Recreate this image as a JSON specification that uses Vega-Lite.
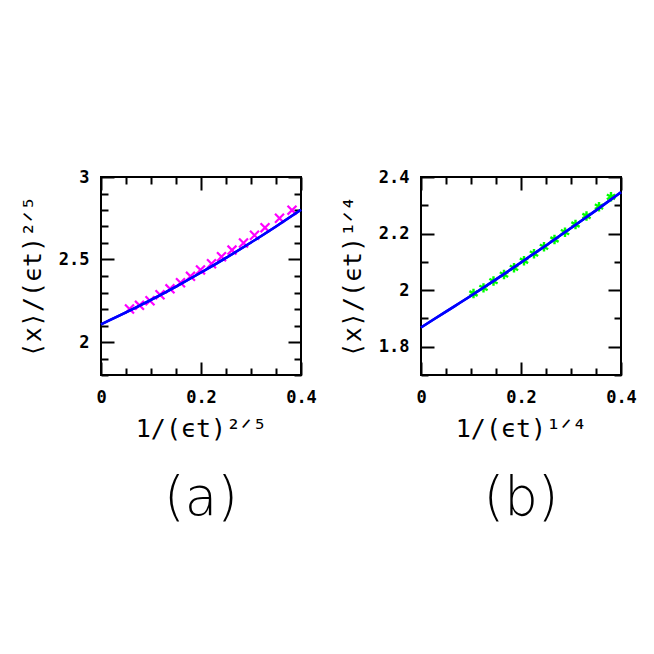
{
  "$schema": "https://vega.github.io/schema/vega-lite/v6.json",
  "description": "Two scaling fits: <x>/(et)^a against 1/(et)^a",
  "padding": {"left": 19, "top": 167, "right": 5, "bottom": 5},
  "background": "white",
  "spacing": 21,
  "datasets": {
    "pointsA": [
      {"x": 0.057, "y": 2.200}, {"x": 0.077, "y": 2.222}, {"x": 0.098, "y": 2.250},
      {"x": 0.118, "y": 2.286}, {"x": 0.138, "y": 2.322}, {"x": 0.159, "y": 2.359},
      {"x": 0.179, "y": 2.398}, {"x": 0.199, "y": 2.437}, {"x": 0.221, "y": 2.474},
      {"x": 0.241, "y": 2.517}, {"x": 0.262, "y": 2.557}, {"x": 0.285, "y": 2.600},
      {"x": 0.307, "y": 2.647}, {"x": 0.328, "y": 2.693}, {"x": 0.357, "y": 2.750},
      {"x": 0.382, "y": 2.799}
    ],
    "lineA": [
      {"x": 0, "y": 2.107}, {"x": 0.05, "y": 2.179}, {"x": 0.1, "y": 2.255},
      {"x": 0.15, "y": 2.336}, {"x": 0.2, "y": 2.421}, {"x": 0.25, "y": 2.510},
      {"x": 0.3, "y": 2.603}, {"x": 0.35, "y": 2.700}, {"x": 0.4, "y": 2.801}
    ],
    "pointsB": [
      {"x": 0.105, "y": 1.988}, {"x": 0.125, "y": 2.008}, {"x": 0.145, "y": 2.032},
      {"x": 0.166, "y": 2.055}, {"x": 0.186, "y": 2.079}, {"x": 0.206, "y": 2.104},
      {"x": 0.226, "y": 2.129}, {"x": 0.246, "y": 2.153}, {"x": 0.267, "y": 2.179},
      {"x": 0.288, "y": 2.205}, {"x": 0.309, "y": 2.232}, {"x": 0.331, "y": 2.262},
      {"x": 0.356, "y": 2.295}, {"x": 0.380, "y": 2.330}
    ],
    "lineB": [
      {"x": 0, "y": 1.868}, {"x": 0.05, "y": 1.924}, {"x": 0.1, "y": 1.980},
      {"x": 0.15, "y": 2.038}, {"x": 0.2, "y": 2.098}, {"x": 0.25, "y": 2.158},
      {"x": 0.3, "y": 2.220}, {"x": 0.35, "y": 2.282}, {"x": 0.4, "y": 2.346}
    ]
  },
  "hconcat": [
    {
      "width": 200,
      "height": 198,
      "title": {"text": "(a)", "orient": "bottom", "anchor": "middle", "frame": "group", "font": "DejaVu Sans", "fontSize": 53, "fontWeight": 300, "color": "black", "offset": 32},
      "resolve": {"axis": {"x": "independent", "y": "independent"}},
      "layer": [
        {
          "data": {"name": "pointsA"},
          "mark": {"type": "point", "shape": "M-1,-1L1,1M-1,1L1,-1", "filled": false, "stroke": "#ff00ff", "strokeWidth": 2.2, "size": 80, "opacity": 1},
          "encoding": {
            "x": {"field": "x", "type": "quantitative", "scale": {"domain": [0, 0.4], "nice": false, "zero": false},
              "axis": {"orient": "bottom", "values": [0, 0.2, 0.4], "ticks": false, "labelPadding": 14, "labelExpr": "'' + round(datum.value * 10) / 10", "title": "1/(ϵt)²ᐟ⁵", "titlePadding": 11}},
            "y": {"field": "y", "type": "quantitative", "scale": {"domain": [1.8, 3], "nice": false, "zero": false},
              "axis": {"orient": "left", "values": [2, 2.5, 3], "ticks": false, "labelPadding": 12, "labelExpr": "'' + round(datum.value * 10) / 10", "title": "⟨x⟩/(ϵt)²ᐟ⁵", "titlePadding": 13}}
          }
        },
        {
          "data": {"name": "lineA"},
          "mark": {"type": "line", "color": "#0000ff", "strokeWidth": 2.5, "interpolate": "monotone"},
          "encoding": {
            "x": {"field": "x", "type": "quantitative",
              "axis": {"orient": "bottom", "values": [0, 0.05, 0.1, 0.15, 0.2, 0.25, 0.3, 0.35, 0.4], "labels": false, "title": null,
                "tickSize": {"condition": {"test": "abs(datum.value * 5 - round(datum.value * 5)) < 0.001", "value": -13}, "value": -7}}},
            "y": {"field": "y", "type": "quantitative",
              "axis": {"orient": "left", "values": [1.8, 1.9, 2, 2.1, 2.2, 2.3, 2.4, 2.5, 2.6, 2.7, 2.8, 2.9, 3], "labels": false, "title": null,
                "tickSize": {"condition": {"test": "abs(datum.value * 2 - round(datum.value * 2)) < 0.001", "value": -13}, "value": -7}}}
          }
        },
        {
          "data": {"name": "lineA"},
          "mark": {"type": "line", "color": "#0000ff", "strokeWidth": 2.5, "interpolate": "monotone"},
          "encoding": {
            "x": {"field": "x", "type": "quantitative",
              "axis": {"orient": "top", "values": [0, 0.05, 0.1, 0.15, 0.2, 0.25, 0.3, 0.35, 0.4], "labels": false, "title": null,
                "tickSize": {"condition": {"test": "abs(datum.value * 5 - round(datum.value * 5)) < 0.001", "value": -13}, "value": -7}}},
            "y": {"field": "y", "type": "quantitative",
              "axis": {"orient": "right", "values": [1.8, 1.9, 2, 2.1, 2.2, 2.3, 2.4, 2.5, 2.6, 2.7, 2.8, 2.9, 3], "labels": false, "title": null,
                "tickSize": {"condition": {"test": "abs(datum.value * 2 - round(datum.value * 2)) < 0.001", "value": -13}, "value": -7}}}
          }
        }
      ]
    },
    {
      "width": 200,
      "height": 198,
      "title": {"text": "(b)", "orient": "bottom", "anchor": "middle", "frame": "group", "font": "DejaVu Sans", "fontSize": 53, "fontWeight": 300, "color": "black", "offset": 32},
      "resolve": {"axis": {"x": "independent", "y": "independent"}},
      "layer": [
        {
          "data": {"name": "pointsB"},
          "mark": {"type": "point", "shape": "M0,-1L0,1M-0.87,-0.5L0.87,0.5M-0.87,0.5L0.87,-0.5", "filled": false, "stroke": "#00ff00", "strokeWidth": 2.4, "size": 90, "opacity": 1},
          "encoding": {
            "x": {"field": "x", "type": "quantitative", "scale": {"domain": [0, 0.4], "nice": false, "zero": false},
              "axis": {"orient": "bottom", "values": [0, 0.2, 0.4], "ticks": false, "labelPadding": 14, "labelExpr": "'' + round(datum.value * 10) / 10", "title": "1/(ϵt)¹ᐟ⁴", "titlePadding": 11}},
            "y": {"field": "y", "type": "quantitative", "scale": {"domain": [1.7, 2.4], "nice": false, "zero": false},
              "axis": {"orient": "left", "values": [1.8, 2, 2.2, 2.4], "ticks": false, "labelPadding": 12, "labelExpr": "'' + round(datum.value * 10) / 10", "title": "⟨x⟩/(ϵt)¹ᐟ⁴", "titlePadding": 13}}
          }
        },
        {
          "data": {"name": "lineB"},
          "mark": {"type": "line", "color": "#0000ff", "strokeWidth": 2.5, "interpolate": "monotone"},
          "encoding": {
            "x": {"field": "x", "type": "quantitative",
              "axis": {"orient": "bottom", "values": [0, 0.05, 0.1, 0.15, 0.2, 0.25, 0.3, 0.35, 0.4], "labels": false, "title": null,
                "tickSize": {"condition": {"test": "abs(datum.value * 5 - round(datum.value * 5)) < 0.001", "value": -13}, "value": -7}}},
            "y": {"field": "y", "type": "quantitative",
              "axis": {"orient": "left", "values": [1.7, 1.8, 1.9, 2, 2.1, 2.2, 2.3, 2.4], "labels": false, "title": null,
                "tickSize": {"condition": {"test": "abs(datum.value * 5 - round(datum.value * 5)) < 0.001", "value": -13}, "value": -7}}}
          }
        },
        {
          "data": {"name": "lineB"},
          "mark": {"type": "line", "color": "#0000ff", "strokeWidth": 2.5, "interpolate": "monotone"},
          "encoding": {
            "x": {"field": "x", "type": "quantitative",
              "axis": {"orient": "top", "values": [0, 0.05, 0.1, 0.15, 0.2, 0.25, 0.3, 0.35, 0.4], "labels": false, "title": null,
                "tickSize": {"condition": {"test": "abs(datum.value * 5 - round(datum.value * 5)) < 0.001", "value": -13}, "value": -7}}},
            "y": {"field": "y", "type": "quantitative",
              "axis": {"orient": "right", "values": [1.7, 1.8, 1.9, 2, 2.1, 2.2, 2.3, 2.4], "labels": false, "title": null,
                "tickSize": {"condition": {"test": "abs(datum.value * 5 - round(datum.value * 5)) < 0.001", "value": -13}, "value": -7}}}
          }
        }
      ]
    }
  ],
  "config": {
    "view": {"stroke": "black", "strokeWidth": 2},
    "axis": {
      "domain": false,
      "grid": false,
      "tickColor": "black",
      "tickWidth": 2,
      "labelFont": "DejaVu Sans Mono",
      "labelFontSize": 17,
      "labelFontWeight": "bold",
      "labelColor": "black",
      "labelFlush": false,
      "labelOverlap": false,
      "titleFont": "DejaVu Sans Mono",
      "titleFontSize": 25,
      "titleFontWeight": "normal",
      "titleColor": "black"
    }
  }
}
